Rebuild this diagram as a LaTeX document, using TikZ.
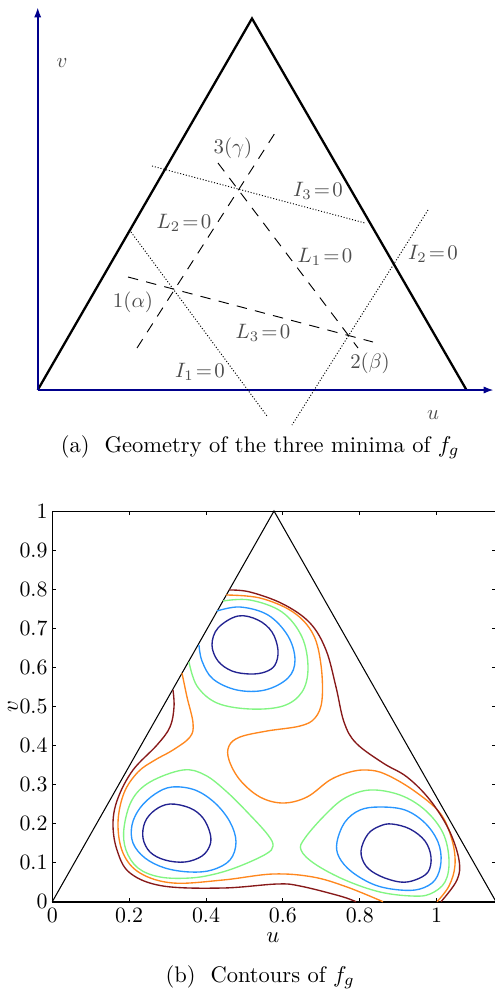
\documentclass[tikz,border=0pt]{standalone}
\usepackage{amsmath}
\usepackage{xcolor}
\usetikzlibrary{arrows.meta}

\definecolor{axisblue}{RGB}{0,0,140}
\definecolor{cnavy}{RGB}{35,35,145}
\definecolor{csky}{RGB}{40,150,255}
\definecolor{cgreen}{RGB}{130,245,130}
\definecolor{corange}{RGB}{255,135,30}
\definecolor{cmaroon}{RGB}{135,25,25}

\begin{document}
\begin{tikzpicture}[x=0.48pt, y=-0.48pt,
    axis/.style={draw=axisblue, line width=1pt, -{Latex[length=5pt,width=3.5pt]}},
    tri/.style={draw, line width=1.1pt, line join=miter},
    lline/.style={draw, dash pattern=on 5pt off 4pt, line width=0.45pt},
    iline/.style={draw, dash pattern=on 0.5pt off 0.9pt, line width=0.45pt},
    lab/.style={text=black!70},
    capt/.style={font=\fontsize{10.8}{13}\selectfont},
    axframe/.style={draw, line width=0.4pt},
    tick/.style={draw, line width=0.4pt},
    ticklab/.style={font=\fontsize{10.5}{12}\selectfont, inner sep=1pt},
    cline/.style={line width=0.65pt},
  ]
    \useasboundingbox (0,0) rectangle (495,990);

    % ── (a) geometry of the minima ──
    \coordinate (o) at (37.7,390);
    \coordinate (vtip) at (37.7,7);
    \coordinate (utip) at (494,390);
    \coordinate (apex) at (252,18.5);
    \coordinate (right) at (466.5,390);
    \draw[tri] (o) -- (apex) -- (right);
    \draw[axis] (o) -- (vtip);
    \draw[axis] (o) -- (utip);
    \node[lab] (v-a) at (62,63) {$v$};
    \node[lab] (u-a) at (433,415) {$u$};
    % L lines (dashed)
    \coordinate (l2s) at (137,348);  \coordinate (l2e) at (275,133);
    \coordinate (l1s) at (218,163);  \coordinate (l1e) at (358,348);
    \coordinate (l3s) at (128,277);  \coordinate (l3e) at (373,342);
    \draw[lline] (l2s) -- (l2e);
    \draw[lline] (l1s) -- (l1e);
    \draw[lline] (l3s) -- (l3e);
    % I lines (dotted)
    \coordinate (i3s) at (152,166);  \coordinate (i3e) at (365,223);
    \coordinate (i1s) at (131,232);  \coordinate (i1e) at (267,416);
    \coordinate (i2s) at (428,210);  \coordinate (i2e) at (292,425);
    \draw[iline] (i3s) -- (i3e);
    \draw[iline] (i1s) -- (i1e);
    \draw[iline] (i2s) -- (i2e);
    % labels
    \node[lab] (pt-3) at (233,148) {$3(\gamma)$};
    \node[lab] (pt-1) at (133,302) {$1(\alpha)$};
    \node[lab] (pt-2) at (370,363) {$2(\beta)$};
    \node[lab] (lab-l2) at (184,223) {$L_2\!=\!0$};
    \node[lab] (lab-l1) at (325,257) {$L_1\!=\!0$};
    \node[lab] (lab-l3) at (263,333) {$L_3\!=\!0$};
    \node[lab] (lab-i3) at (318,191) {$I_3\!=\!0$};
    \node[lab] (lab-i2) at (433,254) {$I_2\!=\!0$};
    \node[lab] (lab-i1) at (200,372) {$I_1\!=\!0$};
    \node[capt] (cap-a) at (260,447) {(a)\ \ Geometry of the three minima of $f_g$};

    % ── (b) contours ──
    \draw[axframe] (52.3,901.7) -- (52.3,511) -- (495,511);
    \draw[line width=1pt] (52.3,901.7) -- (495,901.7);
    \foreach \u/\t in {0/0, 0.2/0.2, 0.4/0.4, 0.6/0.6, 0.8/0.8, 1/1} {
      \draw[tick] ({52.3+384.3*\u},901.7) -- ++(0,-3.5);
      \draw[tick] ({52.3+384.3*\u},511) -- ++(0,3.5);
      \node[ticklab] at ({52.3+384.3*\u},915.5) {\t};
    }
    \foreach \v/\t in {0/0, 0.1/0.1, 0.2/0.2, 0.3/0.3, 0.4/0.4, 0.5/0.5, 0.6/0.6, 0.7/0.7, 0.8/0.8, 0.9/0.9, 1/1} {
      \draw[tick] (52.3,{901.7-390.7*\v}) -- ++(3.5,0);
      \draw[tick] (495,{901.7-390.7*\v}) -- ++(-3.5,0);
      \node[ticklab, anchor=east] at (50,{901.7-390.7*\v}) {\t};
    }
    \node[ticklab] (u-b) at (273,938) {$u$};
    \node[ticklab, rotate=90] (v-b) at (13,707) {$v$};
    \draw[line width=0.5pt] (52.3,901.7) -- (274,511) -- (496,901.7);

    % top minimum
    \draw[cline, cnavy] plot[smooth cycle, tension=0.6] coordinates {(238,616) (258,620) (272,632) (278,650) (275,665) (265,672) (250,674) (232,671) (218,661) (212,645) (218,628)};
    \draw[cline, csky] plot[smooth, tension=0.6] coordinates {(217,611) (240,607) (268,615) (288,636) (295,660) (288,678) (265,690) (237,690) (213,679) (202,661) (199,645)};
    \draw[cline, cgreen] plot[smooth, tension=0.6] coordinates {(223,601) (250,600) (282,612) (302,637) (308,668) (302,692) (283,706) (250,709) (217,703) (197,686) (189,662)};
    % left minimum
    \draw[cline, cnavy] plot[smooth cycle, tension=0.6] coordinates {(170,804) (190,808) (203,818) (210,833) (210,845) (202,856) (185,862) (165,860) (150,852) (143,838) (145,822) (155,810)};
    \draw[cline, csky] plot[smooth cycle, tension=0.6] coordinates {(172,787) (195,790) (215,803) (230,822) (236,842) (230,860) (212,870) (190,872) (165,868) (145,858) (133,843) (132,825) (140,808) (155,794)};
    \draw[cline, cgreen] plot[smooth cycle, tension=0.6] coordinates {(183,770) (205,775) (227,792) (250,815) (268,835) (273,846) (266,854) (240,866) (215,874) (190,878) (160,877) (138,868) (126,850) (124,828) (132,800) (150,782)};
    % right minimum
    \draw[cline, cnavy] plot[smooth cycle, tension=0.6] coordinates {(392,824) (410,829) (425,841) (431,857) (428,872) (415,880) (400,882) (380,876) (366,866) (361,851) (368,834) (380,826)};
    \draw[cline, csky] plot[smooth cycle, tension=0.6] coordinates {(380,807) (405,810) (425,823) (438,842) (441,862) (435,880) (420,889) (400,890) (375,885) (352,872) (339,857) (337,842) (345,822) (360,810)};
    \draw[cline, cgreen] plot[smooth cycle, tension=0.6] coordinates {(370,790) (400,795) (425,810) (443,833) (449,860) (445,882) (430,894) (412,896) (380,892) (345,880) (315,864) (301,850) (305,838) (325,815) (345,798)};
    % outer levels
    \draw[cline, corange] plot[smooth, tension=0.6] coordinates {(226,595) (260,598) (293,612) (313,634) (321,665) (322,700) (315,718) (300,726) (267,731) (240,737) (229,746) (229,760) (240,780) (260,797) (283,803) (307,797) (330,780) (350,772) (367,770) (385,774) (413,790) (440,813) (452,840) (455,865) (449,886) (437,901.7)};
    \draw[cline, corange] plot[smooth, tension=0.6] coordinates {(182,673) (187,697) (193,723) (190,737) (173,750) (155,760) (138,772) (124,793) (118,823) (123,853) (140,873) (173,883) (223,880) (273,874) (313,877) (347,887) (383,901.7)};
    \draw[cline, cmaroon] plot[smooth, tension=0.6] coordinates {(229,590) (250,592) (283,604) (310,623) (326,650) (336,687) (344,722) (356,743) (383,763) (407,777) (430,800) (449,830) (459,860) (457,880) (441,901.7)};
    \draw[cline, cmaroon] plot[smooth, tension=0.6] coordinates {(173,690) (174,707) (170,727) (157,745) (133,770) (118,798) (113,823) (117,850) (130,873) (163,886) (223,888) (277,884) (300,886) (340,896) (356,901.7)};

    \node[capt] (cap-b) at (260,977) {(b)\ \ Contours of $f_g$};
  \end{tikzpicture}
\end{document}
